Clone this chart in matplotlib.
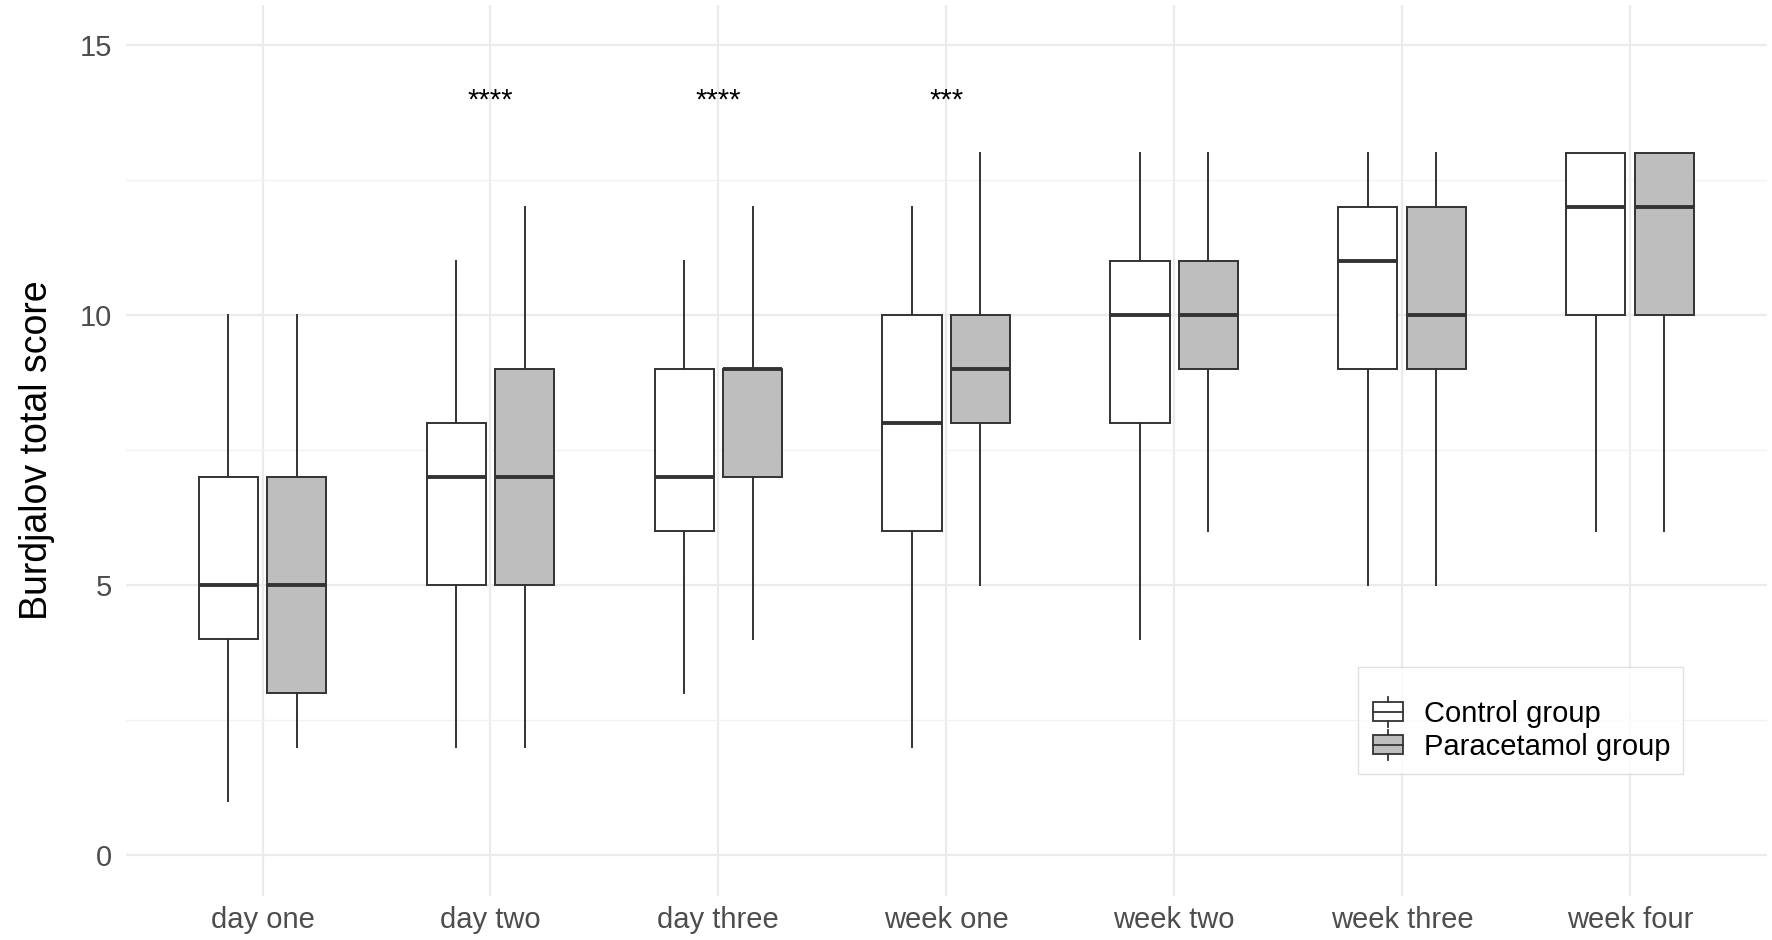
import matplotlib
matplotlib.use("Agg")
import matplotlib.pyplot as plt
from matplotlib.patches import Rectangle
from matplotlib.lines import Line2D
from matplotlib.legend_handler import HandlerBase

plt.rcParams['font.family'] = ['Liberation Sans', 'DejaVu Sans']

categories = ["day one", "day two", "day three", "week one", "week two", "week three", "week four"]
groups = ["Control group", "Paracetamol group"]

control_whislo = [1, 2, 3, 2, 4, 5, 6]
control_q1     = [4, 5, 6, 6, 8, 9, 10]
control_med    = [5, 7, 7, 8, 10, 11, 12]
control_q3     = [7, 8, 9, 10, 11, 12, 13]
control_whishi = [10, 11, 11, 12, 13, 13, 13]

para_whislo = [2, 2, 4, 5, 6, 5, 6]
para_q1     = [3, 5, 7, 8, 9, 9, 10]
para_med    = [5, 7, 9, 9, 10, 10, 12]
para_q3     = [7, 9, 9, 10, 11, 12, 13]
para_whishi = [10, 12, 12, 13, 13, 13, 13]

sig_labels = ["", "****", "****", "***", "", "", ""]
sig_y = 13.98

colors = ["white", "#bebebe"]
edge = "#333333"

fig = plt.figure(figsize=(17.72, 9.4), dpi=100)
ax = fig.add_axes([0.071, 0.047, 0.926, 0.948])

def stats(lo, q1, med, q3, hi):
    return [dict(whislo=a, q1=b, med=c, q3=d, whishi=e, fliers=[])
            for a, b, c, d, e in zip(lo, q1, med, q3, hi)]

series = [
    stats(control_whislo, control_q1, control_med, control_q3, control_whishi),
    stats(para_whislo, para_q1, para_med, para_q3, para_whishi),
]
offsets = [-0.15, 0.15]
xpos = list(range(1, len(categories) + 1))

for s, off, col in zip(series, offsets, colors):
    ax.bxp(s, positions=[x + off for x in xpos], widths=0.26, patch_artist=True,
           showcaps=False, showfliers=False, manage_ticks=False,
           boxprops=dict(facecolor=col, edgecolor=edge, linewidth=1.4),
           medianprops=dict(color=edge, linewidth=2.8, solid_capstyle='butt'),
           whiskerprops=dict(color=edge, linewidth=1.4), zorder=3)

for x, lab in zip(xpos, sig_labels):
    if lab:
        ax.text(x, sig_y, lab, ha='center', va='center', fontsize=21, color='black')

ax.set_xlim(0.4, 7.6)
ax.set_ylim(-0.75, 15.75)
ax.set_xticks(xpos)
ax.set_xticklabels(categories)
ax.set_yticks([0, 5, 10, 15])
ax.set_yticks([2.5, 7.5, 12.5], minor=True)
ax.tick_params(axis='both', which='both', length=0, labelsize=21, labelcolor='#4d4d4d')
ax.tick_params(axis='x', pad=7)
ax.tick_params(axis='y', pad=10)
ax.grid(True, which='major', color='#ebebeb', linewidth=1.6, zorder=0)
ax.grid(True, which='minor', axis='y', color='#f2f2f2', linewidth=1.0, zorder=0)
ax.set_axisbelow(True)
for sp in ax.spines.values():
    sp.set_visible(False)
ax.set_ylabel("Burdjalov total score", fontsize=27, color='black', labelpad=18)


class BoxHandler(HandlerBase):
    def __init__(self, fc):
        super().__init__()
        self.fc = fc

    def create_artists(self, legend, orig_handle, xdescent, ydescent, width, height, fontsize, trans):
        w = width * 0.92
        x0 = -xdescent + (width - w) / 2
        h = height * 0.68
        y0 = -ydescent + (height - h) / 2
        cx = x0 + w / 2
        rect = Rectangle((x0, y0), w, h, facecolor=self.fc, edgecolor=edge, lw=1.3, transform=trans)
        med = Line2D([x0, x0 + w], [y0 + h / 2] * 2, color=edge, lw=1.3, transform=trans)
        wl = Line2D([cx, cx], [y0 - height * 0.2, y0], color=edge, lw=1.3, transform=trans)
        wh = Line2D([cx, cx], [y0 + h, y0 + h + height * 0.2], color=edge, lw=1.3, transform=trans)
        return [rect, med, wl, wh]

h1 = Rectangle((0, 0), 1, 1)
h2 = Rectangle((0, 0), 1, 1)
leg = ax.legend([h1, h2], groups, handler_map={h1: BoxHandler(colors[0]), h2: BoxHandler(colors[1])},
                loc='lower left', bbox_to_anchor=(0.751, 0.137),
                fontsize=21, title=" ", title_fontsize=12, frameon=True, fancybox=False,
                handlelength=1.15, handleheight=1.1, handletextpad=0.65, labelspacing=0.1,
                borderpad=0.45, borderaxespad=0.0)
leg.get_frame().set_edgecolor('#d9d9d9')
leg.get_frame().set_linewidth(1.0)

fig.savefig("out.png", dpi=100)
